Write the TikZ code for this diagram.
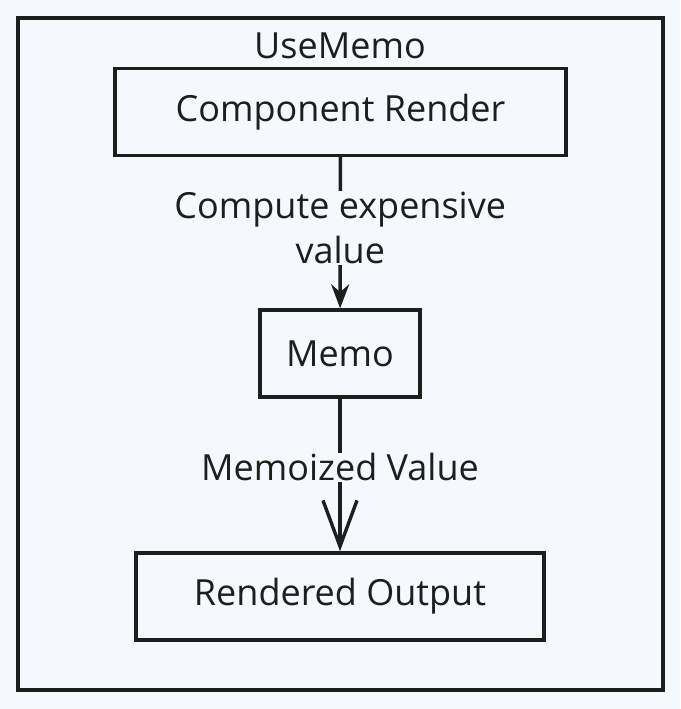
\documentclass[tikz,border=0pt]{standalone}
\usepackage{fontspec}
\setmainfont{Open Sans}
\usetikzlibrary{arrows.meta}
\definecolor{paper}{RGB}{245,248,252}
\definecolor{ink}{RGB}{30,30,30}
\begin{document}
\begin{tikzpicture}[x=1pt,y=-1pt,
    every node/.style={font=\fontsize{36}{45}\selectfont, text=ink},
    box/.style={draw=ink, line width=3.4pt, fill=paper, minimum height=87pt},
    link/.style={draw=ink, line width=3.4pt},
    elabel/.style={fill=paper, align=center, inner sep=1pt}]
        \fill[paper] (0, 0) rectangle (680, 709);
        \useasboundingbox (0, 0) rectangle (680, 709);

        \node[draw=ink, line width=3.4pt, minimum width=645pt, minimum height=672pt] (usememo) at (340.5, 354) {};
        \node (title) at (340, 46) {UseMemo};

        \node[box, minimum width=451pt] (render) at (340.5, 112) {Component Render};
        \node[box, minimum width=160pt] (memo) at (340, 353.5) {Memo};
        \node[box, minimum width=408pt] (output) at (340, 596.5) {Rendered Output};

        \draw[link, -{Stealth[length=24pt, width=18pt]}] (render) -- node[elabel, pos=0.47] {Compute expensive\\value} (memo);
        \draw[link, -{Straight Barb[length=46pt, width=34pt, line width=3.4pt]}] (memo) -- node[elabel, pos=0.45] {Memoized Value} (output);

    \end{tikzpicture}
\end{document}
